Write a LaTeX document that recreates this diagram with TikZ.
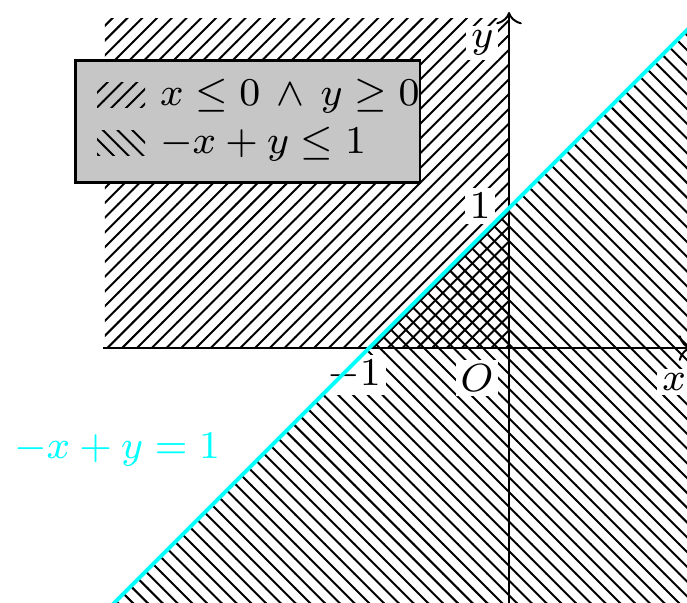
\documentclass[tikz,border=0pt]{standalone}
\usetikzlibrary{arrows.meta, patterns, positioning}
\definecolor{linecyan}{rgb}{0,1,1}

\begin{document}
\begin{tikzpicture}[
    font=\footnotesize,
    lbl/.style={fill=white, inner sep=1pt},
    swatch/.style={minimum width=0.343cm, minimum height=0.179cm, inner sep=0pt},
    legendbox/.style={draw, semithick, fill=gray!45, minimum width=2.464cm, minimum height=0.871cm, inner sep=0pt},
    legtext/.style={anchor=base west, inner sep=0pt}
]
\clip (-3.636,-1.821) rectangle (1.271,2.486);

% Regions
\fill[pattern=north east lines] (-2.886,0) rectangle (0,2.357);
\fill[pattern=north west lines] (-3,-2) -- (1.5,2.5) -- (1.5,-2) -- cycle;

% Axes
\coordinate (o) at (0,0);
\coordinate (xl) at (-2.9,0);
\coordinate (xr) at (1.3,0);
\coordinate (yb) at (0,-2);
\coordinate (yt) at (0,2.4);
\draw[->] (xl) -- (xr);
\draw[->] (yb) -- (yt);

% Labels
\node[lbl] (xlab) at (1.179,-0.243) {$x$};
\node[lbl] (ylab) at (-0.19,2.18) {$y$};
\node[lbl] (olab) at (-0.229,-0.214) {$O$};
\node[lbl] (mone) at (-1.107,-0.193) {$-1$};
\node[lbl] (one) at (-0.207,1.014) {$1$};

% Boundary line
\coordinate (lb) at (-3,-2);
\coordinate (rt) at (1.5,2.5);
\draw[linecyan, thick] (lb) -- (rt);
\node[text=linecyan] (eqlab) at (-2.8,-0.729) {$-x+y=1$};

% Legend
\node[legendbox] (legend) at (-1.868,1.621) {};
\node[swatch, pattern=north east lines] (sw1) at (-2.771,1.81) {};
\node[swatch, pattern=north west lines] (sw2) at (-2.771,1.464) {};
\node[legtext] (leg1) at (-2.5,1.736) {$x \le 0 \,\land\, y \ge 0$};
\node[legtext] (leg2) at (-2.5,1.393) {$-x+y \le 1$};

\end{tikzpicture}
\end{document}
